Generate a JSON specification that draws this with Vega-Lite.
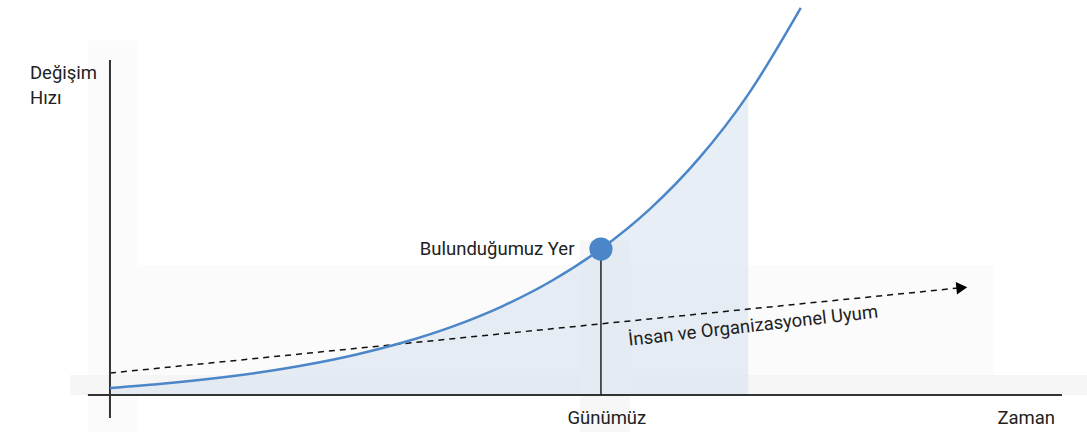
{
  "$schema": "https://vega.github.io/schema/vega-lite/v6.json",
  "width": 1087,
  "height": 432,
  "autosize": {"type": "fit", "contains": "padding"},
  "padding": 0,
  "background": "white",
  "config": {"view": {"stroke": null}, "font": "Roboto"},
  "datasets": {
    "bg": [
      {"t0": -4.5, "t1": 5.7, "v0": 243, "v1": -25.3, "c": "a"},
      {"t0": -4.1, "t1": 179.8, "v0": 89, "v1": 13.7, "c": "a"},
      {"t0": -8.1, "t1": 199, "v0": 13.7, "v1": 0, "c": "b"},
      {"t0": 95.7, "t1": 105.9, "v0": 106, "v1": -25.3, "c": "c"}
    ],
    "curve": [
      {"t": 0, "v": 4.8}, {"t": 10, "v": 7.53}, {"t": 20, "v": 10.97},
      {"t": 30, "v": 15.3}, {"t": 40, "v": 20.75}, {"t": 50, "v": 27.63},
      {"t": 60, "v": 36.29}, {"t": 70, "v": 47.2}, {"t": 80, "v": 60.94},
      {"t": 90, "v": 78.27}, {"t": 100, "v": 100.08}, {"t": 110, "v": 127.5},
      {"t": 120, "v": 162.2}, {"t": 130, "v": 205.9}, {"t": 140.7, "v": 265.1}
    ],
    "adapt": [{"t": 0, "v": 15.07}, {"t": 173.5, "v": 73.5}],
    "arrowhead": [{"t": 173.5, "v": 73.5}],
    "axes": [
      {"t0": -4.5, "t1": 193.9, "v0": 0, "v1": 0},
      {"t0": 0, "t1": 0, "v0": 229.5, "v1": -15.75}
    ],
    "now": [{"t": 100, "v0": 0, "v1": 100}],
    "leftlabels": [
      {"t": -16.3, "v": 220.5, "txt": "Değişim"},
      {"t": -16.3, "v": 203.4, "txt": "Hızı"}
    ],
    "centerlabels": [
      {"t": 101.2, "v": -15.75, "txt": "Günümüz"}
    ],
    "rightlabels": [
      {"t": 192.5, "v": -15.75, "txt": "Zaman"},
      {"t": 94.6, "v": 100, "txt": "Bulunduğumuz Yer"}
    ],
    "rotlabel": [{"t": 131, "v": 47.5, "txt": "İnsan ve Organizasyonel Uyum"}]
  },
  "encoding": {},
  "layer": [
    {
      "data": {"name": "bg"},
      "mark": {"type": "rect"},
      "encoding": {
        "x": {"field": "t0", "type": "quantitative", "scale": {"domain": [-22.4, 199], "nice": false, "zero": false}, "axis": null},
        "x2": {"field": "t1"},
        "y": {"field": "v0", "type": "quantitative", "scale": {"domain": [-25.3, 270.5], "nice": false, "zero": false}, "axis": null},
        "y2": {"field": "v1"},
        "color": {"field": "c", "type": "nominal", "scale": {"domain": ["a", "b", "c"], "range": ["#fbfbfb", "#f5f5f5", "#f7f7f7"]}, "legend": null}
      }
    },
    {
      "data": {"name": "curve"},
      "transform": [{"filter": "datum.t <= 130"}],
      "mark": {"type": "area", "interpolate": "monotone", "color": "#d9e2ef", "opacity": 0.6},
      "encoding": {
        "x": {"field": "t", "type": "quantitative"},
        "y": {"field": "v", "type": "quantitative"},
        "y2": {"datum": 0}
      }
    },
    {
      "data": {"name": "adapt"},
      "mark": {"type": "line", "color": "#111", "strokeWidth": 1.5, "strokeDash": [6, 5]},
      "encoding": {
        "x": {"field": "t", "type": "quantitative"},
        "y": {"field": "v", "type": "quantitative"}
      }
    },
    {
      "data": {"name": "arrowhead"},
      "mark": {"type": "point", "shape": "triangle-right", "filled": true, "color": "#000", "size": 160, "opacity": 1, "angle": -5.6},
      "encoding": {
        "x": {"field": "t", "type": "quantitative"},
        "y": {"field": "v", "type": "quantitative"}
      }
    },
    {
      "data": {"name": "axes"},
      "mark": {"type": "rule", "color": "#333", "strokeWidth": 2},
      "encoding": {
        "x": {"field": "t0", "type": "quantitative"},
        "x2": {"field": "t1"},
        "y": {"field": "v0", "type": "quantitative"},
        "y2": {"field": "v1"}
      }
    },
    {
      "data": {"name": "now"},
      "mark": {"type": "rule", "color": "#222", "strokeWidth": 1.5},
      "encoding": {
        "x": {"field": "t", "type": "quantitative"},
        "y": {"field": "v0", "type": "quantitative"},
        "y2": {"field": "v1"}
      }
    },
    {
      "data": {"name": "curve"},
      "mark": {"type": "line", "interpolate": "monotone", "color": "#4a86c8", "strokeWidth": 2.5},
      "encoding": {
        "x": {"field": "t", "type": "quantitative"},
        "y": {"field": "v", "type": "quantitative"}
      }
    },
    {
      "data": {"name": "now"},
      "mark": {"type": "circle", "color": "#4a86c8", "size": 540, "opacity": 1},
      "encoding": {
        "x": {"field": "t", "type": "quantitative"},
        "y": {"field": "v1", "type": "quantitative"}
      }
    },
    {
      "data": {"name": "leftlabels"},
      "mark": {"type": "text", "fontSize": 18.5, "color": "#222", "baseline": "middle", "align": "left"},
      "encoding": {
        "x": {"field": "t", "type": "quantitative"},
        "y": {"field": "v", "type": "quantitative"},
        "text": {"field": "txt"}
      }
    },
    {
      "data": {"name": "centerlabels"},
      "mark": {"type": "text", "fontSize": 18.5, "color": "#222", "baseline": "middle", "align": "center"},
      "encoding": {
        "x": {"field": "t", "type": "quantitative"},
        "y": {"field": "v", "type": "quantitative"},
        "text": {"field": "txt"}
      }
    },
    {
      "data": {"name": "rightlabels"},
      "mark": {"type": "text", "fontSize": 18.5, "color": "#222", "baseline": "middle", "align": "right"},
      "encoding": {
        "x": {"field": "t", "type": "quantitative"},
        "y": {"field": "v", "type": "quantitative"},
        "text": {"field": "txt"}
      }
    },
    {
      "data": {"name": "rotlabel"},
      "mark": {"type": "text", "fontSize": 18.5, "color": "#222", "baseline": "middle", "align": "center", "angle": -6.5},
      "encoding": {
        "x": {"field": "t", "type": "quantitative"},
        "y": {"field": "v", "type": "quantitative"},
        "text": {"field": "txt"}
      }
    }
  ]
}
